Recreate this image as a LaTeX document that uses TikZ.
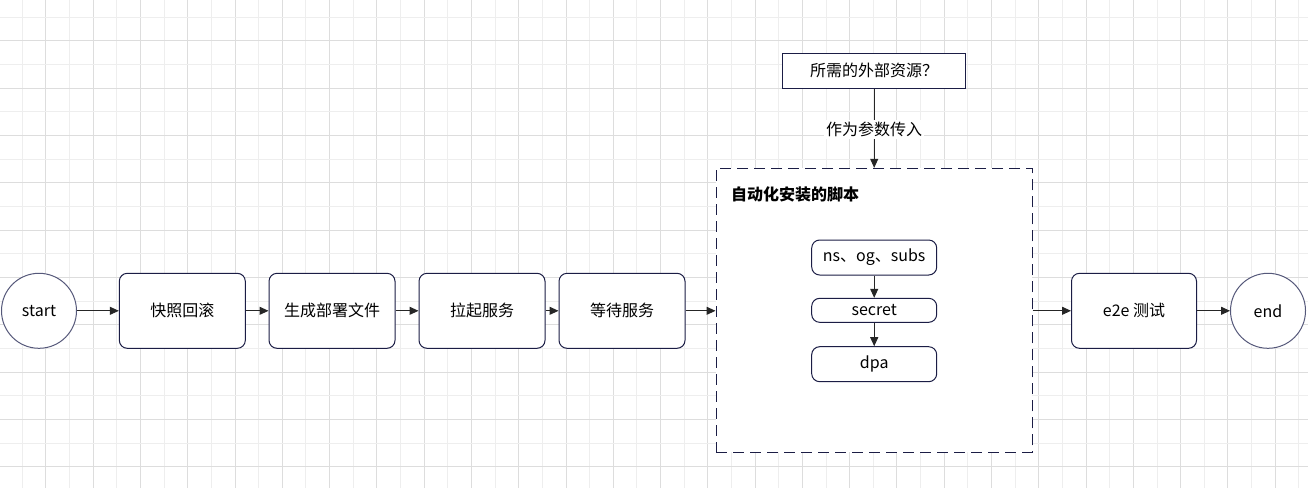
\documentclass[tikz,border=0pt]{standalone}
\usepackage{fontspec}
\setmainfont{Noto Sans CJK SC}
\usetikzlibrary{arrows.meta}
\definecolor{navy}{HTML}{1B1D45}
\definecolor{circ}{HTML}{55587A}
\definecolor{gridlo}{HTML}{EEEEEE}
\definecolor{gridhi}{HTML}{DDDDDD}
\begin{document}
\begin{tikzpicture}[x=1pt,y=-1pt,
  lbl/.style={font=\fontsize{16}{19}\selectfont},
  box/.style={lbl,draw=navy,line width=1pt,rounded corners=8pt,fill=white,minimum width=126pt,minimum height=75pt,inner sep=0pt},
  sbox/.style={lbl,draw=navy,line width=1pt,rounded corners=8pt,fill=white,minimum width=125pt,inner sep=0pt},
  circnode/.style={lbl,circle,draw=circ,line width=1pt,fill=white,minimum size=75pt,inner sep=0pt},
  conn/.style={draw=black!85,line width=1pt,-{Triangle[length=9pt,width=8pt]}}]
\useasboundingbox (0,0) rectangle (1308,488);
\fill[white] (0,0) rectangle (1308,488);
% grid
\foreach \k in {0,...,55}{
  \pgfmathsetmacro\xx{22.3+23.64*\k}
  \ifodd\k \draw[gridhi,line width=1pt] (\xx,0) -- (\xx,488);
  \else \draw[gridlo,line width=1pt] (\xx,0) -- (\xx,488); \fi
}
\foreach \k in {0,...,20}{
  \pgfmathsetmacro\yy{17.3+23.65*\k}
  \ifodd\k \draw[gridhi,line width=1pt] (0,\yy) -- (1308,\yy);
  \else \draw[gridlo,line width=1pt] (0,\yy) -- (1308,\yy); \fi
}
% container
\node[draw=navy,line width=1pt,dash pattern=on 11pt off 6pt,fill=white,minimum width=316pt,minimum height=284pt,inner sep=0pt] (cont) at (874,310.3) {};
\node[font=\fontsize{16}{19}\selectfont\bfseries,anchor=west,inner sep=0pt] (title) at (731,194) {自动化安装的脚本};
% main chain
\node[circnode] (start) at (39,310.8) {start};
\node[box] (b1) at (182.3,310.8) {快照回滚};
\node[box] (b2) at (332,310.8) {生成部署文件};
\node[box] (b3) at (482,310.8) {拉起服务};
\node[box] (b4) at (622,310.8) {等待服务};
\node[box,minimum width=125pt] (b5) at (1134,310.8) {e2e 测试};
\node[circnode] (end) at (1268,310.8) {end};
% inner
\node[sbox,minimum height=35pt] (ns) at (874.2,257.5) {ns、og、subs};
\node[sbox,minimum height=24pt] (sec) at (874.2,310.3) {secret};
\node[sbox,minimum height=35pt] (dpa) at (874.2,364.2) {dpa};
% top
\node[lbl,draw=navy,line width=1pt,fill=white,minimum width=183pt,minimum height=35pt,inner sep=0pt] (ext) at (874.2,70.8) {所需的外部资源？};
% connectors
\draw[conn] (start) -- (b1);
\draw[conn] (b1) -- (b2);
\draw[conn] (b2) -- (b3);
\draw[conn] (b3) -- (b4);
\draw[conn] (b4.east) -- (cont.west |- b4.east);
\draw[conn] (cont.east |- b5.west) -- (b5.west);
\draw[conn] (b5) -- (end);
\draw[conn] (ns) -- (sec);
\draw[conn] (sec) -- (dpa);
\draw[conn] (ext.south) -- (ext.south |- cont.north) node[lbl,midway,fill=white,inner sep=2pt,yshift=-1pt] (arg) {作为参数传入};
\end{tikzpicture}
\end{document}
